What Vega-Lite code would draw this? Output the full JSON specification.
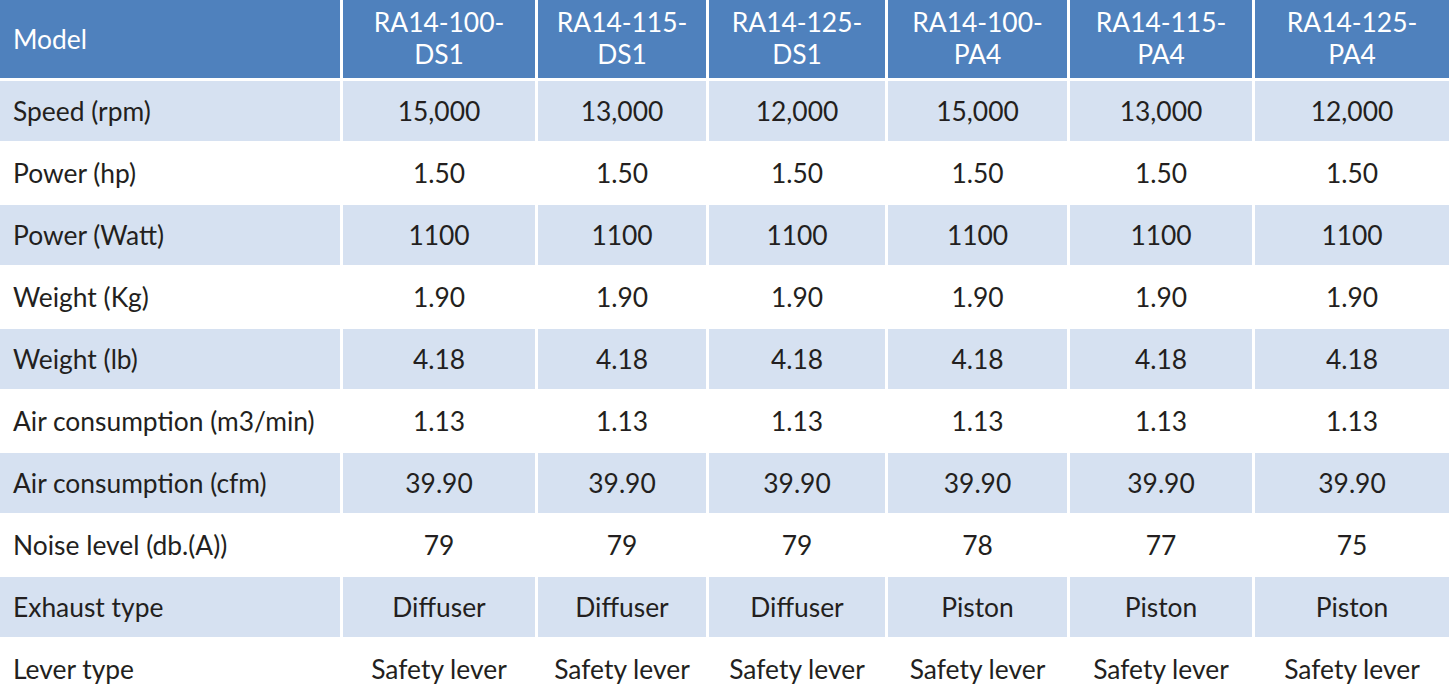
{
  "$schema": "https://vega.github.io/schema/vega-lite/v6.json",
  "padding": 0,
  "background": "white",
  "spacing": 3,
  "config": {
    "view": {"stroke": null},
    "text": {"font": "Lato", "fontSize": 26.4, "color": "#231f20"}
  },
  "datasets": {
    "table": [
      {"param": "Speed (rpm)", "model": "RA14-100-DS1", "value": "15,000"},
      {"param": "Speed (rpm)", "model": "RA14-115-DS1", "value": "13,000"},
      {"param": "Speed (rpm)", "model": "RA14-125-DS1", "value": "12,000"},
      {"param": "Speed (rpm)", "model": "RA14-100-PA4", "value": "15,000"},
      {"param": "Speed (rpm)", "model": "RA14-115-PA4", "value": "13,000"},
      {"param": "Speed (rpm)", "model": "RA14-125-PA4", "value": "12,000"},
      {"param": "Power (hp)", "model": "RA14-100-DS1", "value": "1.50"},
      {"param": "Power (hp)", "model": "RA14-115-DS1", "value": "1.50"},
      {"param": "Power (hp)", "model": "RA14-125-DS1", "value": "1.50"},
      {"param": "Power (hp)", "model": "RA14-100-PA4", "value": "1.50"},
      {"param": "Power (hp)", "model": "RA14-115-PA4", "value": "1.50"},
      {"param": "Power (hp)", "model": "RA14-125-PA4", "value": "1.50"},
      {"param": "Power (Watt)", "model": "RA14-100-DS1", "value": "1100"},
      {"param": "Power (Watt)", "model": "RA14-115-DS1", "value": "1100"},
      {"param": "Power (Watt)", "model": "RA14-125-DS1", "value": "1100"},
      {"param": "Power (Watt)", "model": "RA14-100-PA4", "value": "1100"},
      {"param": "Power (Watt)", "model": "RA14-115-PA4", "value": "1100"},
      {"param": "Power (Watt)", "model": "RA14-125-PA4", "value": "1100"},
      {"param": "Weight (Kg)", "model": "RA14-100-DS1", "value": "1.90"},
      {"param": "Weight (Kg)", "model": "RA14-115-DS1", "value": "1.90"},
      {"param": "Weight (Kg)", "model": "RA14-125-DS1", "value": "1.90"},
      {"param": "Weight (Kg)", "model": "RA14-100-PA4", "value": "1.90"},
      {"param": "Weight (Kg)", "model": "RA14-115-PA4", "value": "1.90"},
      {"param": "Weight (Kg)", "model": "RA14-125-PA4", "value": "1.90"},
      {"param": "Weight (lb)", "model": "RA14-100-DS1", "value": "4.18"},
      {"param": "Weight (lb)", "model": "RA14-115-DS1", "value": "4.18"},
      {"param": "Weight (lb)", "model": "RA14-125-DS1", "value": "4.18"},
      {"param": "Weight (lb)", "model": "RA14-100-PA4", "value": "4.18"},
      {"param": "Weight (lb)", "model": "RA14-115-PA4", "value": "4.18"},
      {"param": "Weight (lb)", "model": "RA14-125-PA4", "value": "4.18"},
      {"param": "Air consumption (m3/min)", "model": "RA14-100-DS1", "value": "1.13"},
      {"param": "Air consumption (m3/min)", "model": "RA14-115-DS1", "value": "1.13"},
      {"param": "Air consumption (m3/min)", "model": "RA14-125-DS1", "value": "1.13"},
      {"param": "Air consumption (m3/min)", "model": "RA14-100-PA4", "value": "1.13"},
      {"param": "Air consumption (m3/min)", "model": "RA14-115-PA4", "value": "1.13"},
      {"param": "Air consumption (m3/min)", "model": "RA14-125-PA4", "value": "1.13"},
      {"param": "Air consumption (cfm)", "model": "RA14-100-DS1", "value": "39.90"},
      {"param": "Air consumption (cfm)", "model": "RA14-115-DS1", "value": "39.90"},
      {"param": "Air consumption (cfm)", "model": "RA14-125-DS1", "value": "39.90"},
      {"param": "Air consumption (cfm)", "model": "RA14-100-PA4", "value": "39.90"},
      {"param": "Air consumption (cfm)", "model": "RA14-115-PA4", "value": "39.90"},
      {"param": "Air consumption (cfm)", "model": "RA14-125-PA4", "value": "39.90"},
      {"param": "Noise level (db.(A))", "model": "RA14-100-DS1", "value": "79"},
      {"param": "Noise level (db.(A))", "model": "RA14-115-DS1", "value": "79"},
      {"param": "Noise level (db.(A))", "model": "RA14-125-DS1", "value": "79"},
      {"param": "Noise level (db.(A))", "model": "RA14-100-PA4", "value": "78"},
      {"param": "Noise level (db.(A))", "model": "RA14-115-PA4", "value": "77"},
      {"param": "Noise level (db.(A))", "model": "RA14-125-PA4", "value": "75"},
      {"param": "Exhaust type", "model": "RA14-100-DS1", "value": "Diffuser"},
      {"param": "Exhaust type", "model": "RA14-115-DS1", "value": "Diffuser"},
      {"param": "Exhaust type", "model": "RA14-125-DS1", "value": "Diffuser"},
      {"param": "Exhaust type", "model": "RA14-100-PA4", "value": "Piston"},
      {"param": "Exhaust type", "model": "RA14-115-PA4", "value": "Piston"},
      {"param": "Exhaust type", "model": "RA14-125-PA4", "value": "Piston"},
      {"param": "Lever type", "model": "RA14-100-DS1", "value": "Safety lever"},
      {"param": "Lever type", "model": "RA14-115-DS1", "value": "Safety lever"},
      {"param": "Lever type", "model": "RA14-125-DS1", "value": "Safety lever"},
      {"param": "Lever type", "model": "RA14-100-PA4", "value": "Safety lever"},
      {"param": "Lever type", "model": "RA14-115-PA4", "value": "Safety lever"},
      {"param": "Lever type", "model": "RA14-125-PA4", "value": "Safety lever"}
    ],
    "models": [
      {"model": "RA14-100-DS1", "label": ["RA14-100-", "DS1"]},
      {"model": "RA14-115-DS1", "label": ["RA14-115-", "DS1"]},
      {"model": "RA14-125-DS1", "label": ["RA14-125-", "DS1"]},
      {"model": "RA14-100-PA4", "label": ["RA14-100-", "PA4"]},
      {"model": "RA14-115-PA4", "label": ["RA14-115-", "PA4"]},
      {"model": "RA14-125-PA4", "label": ["RA14-125-", "PA4"]}
    ]
  },
  "vconcat": [
    {
      "spacing": 3,
      "hconcat": [
        {"width": 340, "height": 78, "view": {"fill": "#4f81bd", "stroke": null},
         "data": {"values": [{"h": "Model"}]},
         "mark": {"type": "text", "align": "left", "baseline": "middle", "dx": 13, "dy": 2, "color": "white"},
         "encoding": {"x": {"value": 0}, "text": {"field": "h"}}},
        {"width": 192, "height": 78, "view": {"fill": "#4f81bd", "stroke": null},
         "data": {"name": "models"}, "transform": [{"filter": "datum.model == 'RA14-100-DS1'"}],
         "mark": {"type": "text", "align": "center", "baseline": "middle", "lineHeight": 32, "dy": -15, "color": "white"},
         "encoding": {"text": {"field": "label"}}},
        {"width": 168, "height": 78, "view": {"fill": "#4f81bd", "stroke": null},
         "data": {"name": "models"}, "transform": [{"filter": "datum.model == 'RA14-115-DS1'"}],
         "mark": {"type": "text", "align": "center", "baseline": "middle", "lineHeight": 32, "dy": -15, "color": "white"},
         "encoding": {"text": {"field": "label"}}},
        {"width": 176, "height": 78, "view": {"fill": "#4f81bd", "stroke": null},
         "data": {"name": "models"}, "transform": [{"filter": "datum.model == 'RA14-125-DS1'"}],
         "mark": {"type": "text", "align": "center", "baseline": "middle", "lineHeight": 32, "dy": -15, "color": "white"},
         "encoding": {"text": {"field": "label"}}},
        {"width": 179, "height": 78, "view": {"fill": "#4f81bd", "stroke": null},
         "data": {"name": "models"}, "transform": [{"filter": "datum.model == 'RA14-100-PA4'"}],
         "mark": {"type": "text", "align": "center", "baseline": "middle", "lineHeight": 32, "dy": -15, "color": "white"},
         "encoding": {"text": {"field": "label"}}},
        {"width": 182, "height": 78, "view": {"fill": "#4f81bd", "stroke": null},
         "data": {"name": "models"}, "transform": [{"filter": "datum.model == 'RA14-115-PA4'"}],
         "mark": {"type": "text", "align": "center", "baseline": "middle", "lineHeight": 32, "dy": -15, "color": "white"},
         "encoding": {"text": {"field": "label"}}},
        {"width": 194, "height": 78, "view": {"fill": "#4f81bd", "stroke": null},
         "data": {"name": "models"}, "transform": [{"filter": "datum.model == 'RA14-125-PA4'"}],
         "mark": {"type": "text", "align": "center", "baseline": "middle", "lineHeight": 32, "dy": -15, "color": "white"},
         "encoding": {"text": {"field": "label"}}}
      ]
    },
    {
      "spacing": 3,
      "hconcat": [
        {"width": 340, "height": 610,
         "data": {"name": "table"}, "transform": [{"filter": "datum.model == 'RA14-100-DS1'"}],
         "encoding": {"y": {"field": "param", "type": "nominal", "axis": null,
           "scale": {"domain": ["Speed (rpm)", "Power (hp)", "Power (Watt)", "Weight (Kg)", "Weight (lb)", "Air consumption (m3/min)", "Air consumption (cfm)", "Noise level (db.(A))", "Exhaust type", "Lever type"], "range": [0, 618], "paddingInner": 0.03226, "paddingOuter": 0}}},
         "layer": [
           {"transform": [{"filter": {"field": "param", "oneOf": ["Speed (rpm)", "Power (Watt)", "Weight (lb)", "Air consumption (cfm)", "Exhaust type"]}}],
            "mark": {"type": "rect", "color": "#d6e1f1"}},
           {"mark": {"type": "text", "align": "left", "baseline": "middle", "dx": 13, "dy": 2},
            "encoding": {"x": {"value": 0}, "text": {"field": "param"}}}
         ]},
        {"width": 192, "height": 610,
         "data": {"name": "table"}, "transform": [{"filter": "datum.model == 'RA14-100-DS1'"}],
         "encoding": {"y": {"field": "param", "type": "nominal", "axis": null,
           "scale": {"domain": ["Speed (rpm)", "Power (hp)", "Power (Watt)", "Weight (Kg)", "Weight (lb)", "Air consumption (m3/min)", "Air consumption (cfm)", "Noise level (db.(A))", "Exhaust type", "Lever type"], "range": [0, 618], "paddingInner": 0.03226, "paddingOuter": 0}}},
         "layer": [
           {"transform": [{"filter": {"field": "param", "oneOf": ["Speed (rpm)", "Power (Watt)", "Weight (lb)", "Air consumption (cfm)", "Exhaust type"]}}],
            "mark": {"type": "rect", "color": "#d6e1f1"}},
           {"mark": {"type": "text", "align": "center", "baseline": "middle", "dy": 2},
            "encoding": {"text": {"field": "value"}}}
         ]},
        {"width": 168, "height": 610,
         "data": {"name": "table"}, "transform": [{"filter": "datum.model == 'RA14-115-DS1'"}],
         "encoding": {"y": {"field": "param", "type": "nominal", "axis": null,
           "scale": {"domain": ["Speed (rpm)", "Power (hp)", "Power (Watt)", "Weight (Kg)", "Weight (lb)", "Air consumption (m3/min)", "Air consumption (cfm)", "Noise level (db.(A))", "Exhaust type", "Lever type"], "range": [0, 618], "paddingInner": 0.03226, "paddingOuter": 0}}},
         "layer": [
           {"transform": [{"filter": {"field": "param", "oneOf": ["Speed (rpm)", "Power (Watt)", "Weight (lb)", "Air consumption (cfm)", "Exhaust type"]}}],
            "mark": {"type": "rect", "color": "#d6e1f1"}},
           {"mark": {"type": "text", "align": "center", "baseline": "middle", "dy": 2},
            "encoding": {"text": {"field": "value"}}}
         ]},
        {"width": 176, "height": 610,
         "data": {"name": "table"}, "transform": [{"filter": "datum.model == 'RA14-125-DS1'"}],
         "encoding": {"y": {"field": "param", "type": "nominal", "axis": null,
           "scale": {"domain": ["Speed (rpm)", "Power (hp)", "Power (Watt)", "Weight (Kg)", "Weight (lb)", "Air consumption (m3/min)", "Air consumption (cfm)", "Noise level (db.(A))", "Exhaust type", "Lever type"], "range": [0, 618], "paddingInner": 0.03226, "paddingOuter": 0}}},
         "layer": [
           {"transform": [{"filter": {"field": "param", "oneOf": ["Speed (rpm)", "Power (Watt)", "Weight (lb)", "Air consumption (cfm)", "Exhaust type"]}}],
            "mark": {"type": "rect", "color": "#d6e1f1"}},
           {"mark": {"type": "text", "align": "center", "baseline": "middle", "dy": 2},
            "encoding": {"text": {"field": "value"}}}
         ]},
        {"width": 179, "height": 610,
         "data": {"name": "table"}, "transform": [{"filter": "datum.model == 'RA14-100-PA4'"}],
         "encoding": {"y": {"field": "param", "type": "nominal", "axis": null,
           "scale": {"domain": ["Speed (rpm)", "Power (hp)", "Power (Watt)", "Weight (Kg)", "Weight (lb)", "Air consumption (m3/min)", "Air consumption (cfm)", "Noise level (db.(A))", "Exhaust type", "Lever type"], "range": [0, 618], "paddingInner": 0.03226, "paddingOuter": 0}}},
         "layer": [
           {"transform": [{"filter": {"field": "param", "oneOf": ["Speed (rpm)", "Power (Watt)", "Weight (lb)", "Air consumption (cfm)", "Exhaust type"]}}],
            "mark": {"type": "rect", "color": "#d6e1f1"}},
           {"mark": {"type": "text", "align": "center", "baseline": "middle", "dy": 2},
            "encoding": {"text": {"field": "value"}}}
         ]},
        {"width": 182, "height": 610,
         "data": {"name": "table"}, "transform": [{"filter": "datum.model == 'RA14-115-PA4'"}],
         "encoding": {"y": {"field": "param", "type": "nominal", "axis": null,
           "scale": {"domain": ["Speed (rpm)", "Power (hp)", "Power (Watt)", "Weight (Kg)", "Weight (lb)", "Air consumption (m3/min)", "Air consumption (cfm)", "Noise level (db.(A))", "Exhaust type", "Lever type"], "range": [0, 618], "paddingInner": 0.03226, "paddingOuter": 0}}},
         "layer": [
           {"transform": [{"filter": {"field": "param", "oneOf": ["Speed (rpm)", "Power (Watt)", "Weight (lb)", "Air consumption (cfm)", "Exhaust type"]}}],
            "mark": {"type": "rect", "color": "#d6e1f1"}},
           {"mark": {"type": "text", "align": "center", "baseline": "middle", "dy": 2},
            "encoding": {"text": {"field": "value"}}}
         ]},
        {"width": 194, "height": 610,
         "data": {"name": "table"}, "transform": [{"filter": "datum.model == 'RA14-125-PA4'"}],
         "encoding": {"y": {"field": "param", "type": "nominal", "axis": null,
           "scale": {"domain": ["Speed (rpm)", "Power (hp)", "Power (Watt)", "Weight (Kg)", "Weight (lb)", "Air consumption (m3/min)", "Air consumption (cfm)", "Noise level (db.(A))", "Exhaust type", "Lever type"], "range": [0, 618], "paddingInner": 0.03226, "paddingOuter": 0}}},
         "layer": [
           {"transform": [{"filter": {"field": "param", "oneOf": ["Speed (rpm)", "Power (Watt)", "Weight (lb)", "Air consumption (cfm)", "Exhaust type"]}}],
            "mark": {"type": "rect", "color": "#d6e1f1"}},
           {"mark": {"type": "text", "align": "center", "baseline": "middle", "dy": 2},
            "encoding": {"text": {"field": "value"}}}
         ]}
      ]
    }
  ]
}
